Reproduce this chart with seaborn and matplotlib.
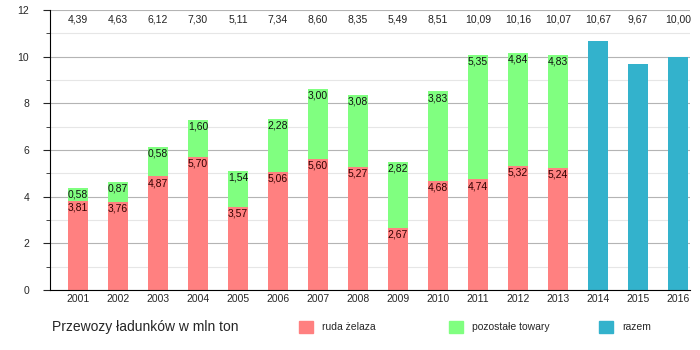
import numpy as np
import pandas as pd
import matplotlib.pyplot as plt
import seaborn as sns
from matplotlib.patches import Patch
from matplotlib.ticker import MultipleLocator

# -------------------------
# Data (mln ton)
# -------------------------
years = [str(y) for y in range(2001, 2017)]
totals = [4.39, 4.63, 6.12, 7.30, 5.11, 7.34, 8.60, 8.35, 5.49, 8.51,
          10.09, 10.16, 10.07, 10.67, 9.67, 10.00]
ore = [3.81, 3.76, 4.87, 5.70, 3.57, 5.06, 5.60, 5.27, 2.67, 4.68,
       4.74, 5.32, 5.24]
other = [0.58, 0.87, 0.58, 1.60, 1.54, 2.28, 3.00, 3.08, 2.82, 3.83,
         5.35, 4.84, 4.83]
legend_labels = ["ruda żelaza", "pozostałe towary", "razem"]

RED = "#ff8080"
GREEN = "#80ff80"
BLUE = "#33b2cc"

df = pd.DataFrame({"year": years, "total": totals})
df["ore"] = pd.Series(ore + [np.nan] * (len(years) - len(ore)))
colors = [GREEN] * len(ore) + [BLUE] * (len(years) - len(ore))

sns.set_style("white")
plt.rcParams["font.family"] = ["Liberation Sans", "DejaVu Sans"]

fig = plt.figure(figsize=(7, 3.5), dpi=100)
ax = fig.add_axes([50 / 700, 60 / 350, 640 / 700, 280 / 350])

# -------------------------
# Bars: totals (green / blue) with iron ore on top of them
# -------------------------
sns.barplot(data=df, x="year", y="total", hue="year", palette=colors,
            order=years, width=0.5, legend=False, saturation=1,
            linewidth=0, ax=ax)
sns.barplot(data=df.dropna(), x="year", y="ore", color=RED, order=years,
            width=0.5, saturation=1, linewidth=0, ax=ax)

# value labels
for i, t in enumerate(totals):
    ax.text(i, 11.58, f"{t:.2f}".replace(".", ","), ha="center", va="center",
            fontsize=7.5, color="#222222")
for i, (r, g) in enumerate(zip(ore, other)):
    ax.text(i, totals[i] - 0.07, f"{g:.2f}".replace(".", ","), ha="center",
            va="top", fontsize=7.5, color="#111111")
    ax.text(i, r - 0.07, f"{r:.2f}".replace(".", ","), ha="center",
            va="top", fontsize=7.5, color="#330000")

# -------------------------
# Axes styling
# -------------------------
ax.set_xlim(-0.7, 15.3)
ax.set_ylim(0, 12)
ax.yaxis.set_major_locator(MultipleLocator(2))
ax.yaxis.set_minor_locator(MultipleLocator(1))
ax.grid(which="major", axis="y", color="#b4b4b4", linewidth=0.8)
ax.grid(which="minor", axis="y", color="#e6e6e6", linewidth=0.8)
ax.set_axisbelow(True)
for s in ["top", "right"]:
    ax.spines[s].set_visible(False)
ax.spines["left"].set_color("black")
ax.spines["bottom"].set_color("black")
ax.tick_params(axis="y", which="major", length=5, left=True, labelsize=7.5, pad=10)
ax.tick_params(axis="y", which="minor", length=3, left=True)
ax.tick_params(axis="x", length=0, labelsize=7.5, pad=3)
ax.set_xlabel("")
ax.set_ylabel("")

# -------------------------
# Footer title and legend (three evenly spaced entries)
# -------------------------
fig.text(52 / 700, 1 - 327 / 350, "Przewozy ładunków w mln ton",
         fontsize=10, va="center", ha="left")
for k, (col, lab) in enumerate(zip([RED, GREEN, BLUE], legend_labels)):
    fig.legend([Patch(color=col)], [lab], loc="center left",
               bbox_to_anchor=((290 + 150 * k) / 700, 1 - 327 / 350),
               frameon=False, fontsize=7.5, handlelength=1.3,
               handleheight=1.3, handletextpad=0.9)

fig.savefig("out.png", dpi=100)
